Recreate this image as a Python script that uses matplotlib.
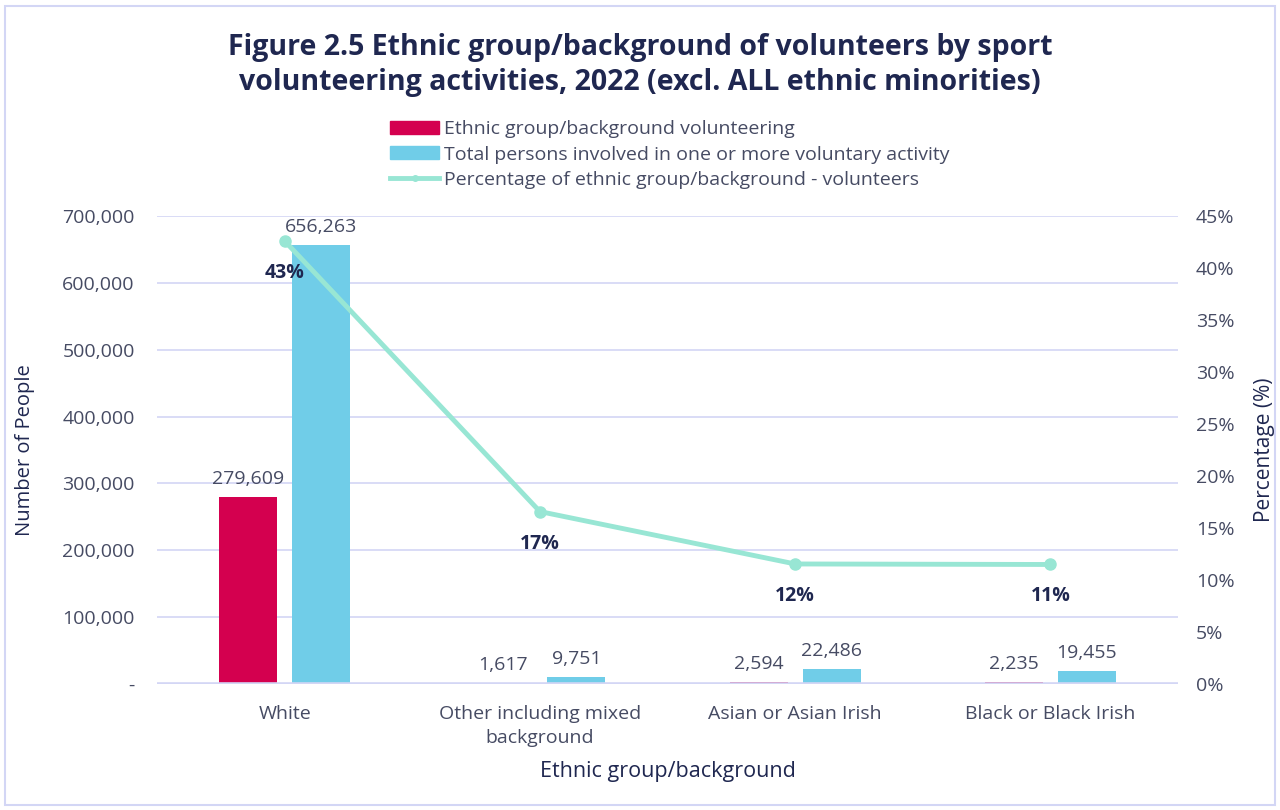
import matplotlib.pyplot as plt
from matplotlib.patches import Rectangle, Patch
from matplotlib.lines import Line2D
from matplotlib.ticker import FuncFormatter, MultipleLocator
import numpy as np

plt.rcParams['font.family'] = ['Open Sans', 'DejaVu Sans']

categories = ['White', 'Other including mixed\nbackground', 'Asian or Asian Irish', 'Black or Black Irish']
volunteers = [279609, 1617, 2594, 2235]
total_persons = [656263, 9751, 22486, 19455]
pct_volunteers = [42.6, 16.58, 11.54, 11.49]

RED = '#d4004f'
BLUE = '#70cde8'
TEAL = '#98e6d4'
NAVY = '#1f2750'
TXT = '#464b63'
GRID = '#d3d6f5'

fig = plt.figure(figsize=(12.8, 8.1), dpi=100)
fig.patches.append(Rectangle((0.004, 0.006), 0.992, 0.986, transform=fig.transFigure,
                             fill=False, edgecolor=GRID, linewidth=1.5))

ax = fig.add_axes([0.1227, 0.1556, 0.7976, 0.5777])
ax2 = ax.twinx()

x = np.arange(len(categories))
w = 0.227
off = 0.143
b1 = ax.bar(x - off, volunteers, w, color=RED, zorder=2)
b2 = ax.bar(x + off, total_persons, w, color=BLUE, zorder=2)
# baseline drawn over the bars
ax.axhline(0, color=GRID, linewidth=2.6, zorder=2.5)

for bars in (b1, b2):
    for b in bars:
        ax.annotate(f'{int(b.get_height()):,}', (b.get_x() + b.get_width() / 2, b.get_height()),
                    xytext=(0, 9), textcoords='offset pixels', ha='center', va='bottom',
                    fontsize=14, color=TXT)

ax.set_xlim(-0.5, len(categories) - 0.5)
ax.set_ylim(0, 700000)
ax.yaxis.set_major_locator(MultipleLocator(100000))
ax.yaxis.set_major_formatter(FuncFormatter(lambda v, p: '-' if v == 0 else f'{int(v):,}'))
ax.grid(axis='y', color=GRID, linewidth=1.2, zorder=0)
ax.set_axisbelow(True)
ax.set_xticks(x)
ax.set_xticklabels(categories, fontsize=14, color=TXT, linespacing=1.45)
ax.tick_params(axis='y', labelsize=14, labelcolor=TXT, length=0, pad=16)
ax.tick_params(axis='x', length=0, pad=15)
ax.set_ylabel('Number of People', fontsize=14.5, color=NAVY, labelpad=20)
ax.set_xlabel('Ethnic group/background', fontsize=15.5, color=NAVY, labelpad=10)

ax2.plot(x, pct_volunteers, color=TEAL, linewidth=3.5, marker='o', markersize=8, zorder=3)
for xi, p in zip(x, pct_volunteers):
    ax2.annotate(f'{p:.0f}%', (xi, p), xytext=(0, -32), textcoords='offset pixels',
                 ha='center', va='center', fontsize=14, fontweight='bold', color=NAVY)
ax2.set_ylim(0, 45)
ax2.yaxis.set_major_locator(MultipleLocator(5))
ax2.yaxis.set_major_formatter(FuncFormatter(lambda v, p: f'{int(v)}%'))
ax2.tick_params(axis='y', labelsize=14, labelcolor=TXT, length=0, pad=13)
ax2.set_ylabel('Percentage (%)', fontsize=15, color=NAVY, labelpad=14)

for a in (ax, ax2):
    for s in a.spines.values():
        s.set_visible(False)

fig.text(0.5, 0.92, 'Figure 2.5 Ethnic group/background of volunteers by sport\n'
         'volunteering activities, 2022 (excl. ALL ethnic minorities)',
         ha='center', va='center', fontsize=20.5, fontweight='bold', color=NAVY, linespacing=1.25)

handles = [Patch(color=RED), Patch(color=BLUE),
           Line2D([], [], color=TEAL, linewidth=3.5, marker='o', markersize=4)]
labels = ['Ethnic group/background volunteering',
          'Total persons involved in one or more voluntary activity',
          'Percentage of ethnic group/background - volunteers']
leg = fig.legend(handles, labels, loc='upper left', bbox_to_anchor=(0.297, 0.8635),
                 frameon=False, fontsize=14, handlelength=2.55, handleheight=0.65,
                 handletextpad=0.25, labelspacing=0.38, borderpad=0)
for t in leg.get_texts():
    t.set_color(TXT)

fig.savefig('out.png', dpi=100)
